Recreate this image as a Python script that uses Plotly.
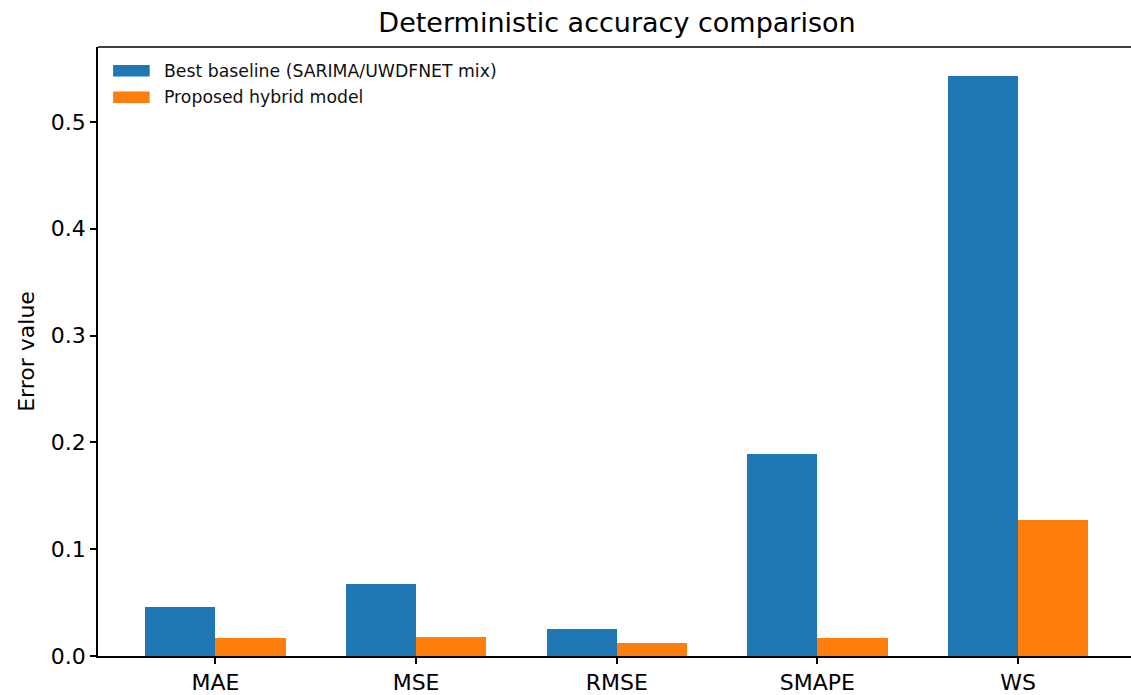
import plotly.graph_objects as go

categories = ["MAE", "MSE", "RMSE", "SMAPE", "WS"]
baseline = [0.0458, 0.0675, 0.0252, 0.189, 0.543]
proposed = [0.0165, 0.0174, 0.0118, 0.0171, 0.1272]
series_names = ["Best baseline (SARIMA/UWDFNET mix)", "Proposed hybrid model"]
colors = ["#1f77b4", "#ff7f0e"]

# paper is slightly wider than the 1131px window so the right edge of the
# axes (which the reference crops off) falls outside the visible page
W, H = 1145, 695
L, R, T, B = 97.6, 0, 47, 37
pw, ph = W - L - R, H - T - B

x = list(range(len(categories)))
bw = 0.35
fig = go.Figure()
fig.add_trace(go.Bar(x=[i - bw / 2 for i in x], y=baseline, width=bw, name=series_names[0],
                     marker=dict(color=colors[0], line=dict(width=0)), showlegend=False))
fig.add_trace(go.Bar(x=[i + bw / 2 for i in x], y=proposed, width=bw, name=series_names[1],
                     marker=dict(color=colors[1], line=dict(width=0)), showlegend=False))

font = "DejaVu Sans"
ymax = max(baseline + proposed) * 1.05
xlo = -0.585
xhi = xlo + pw / 200.75

def px2x(p):
    return (p - L) / pw

def py2y(p):
    return (H - B - p) / ph

# legend drawn manually
rows = [(65, 76.7), (91.7, 103.3)]
for (y0, y1), name, c in zip(rows, series_names, colors):
    fig.add_shape(type="rect", xref="paper", yref="paper",
                  x0=px2x(112.7), x1=px2x(149.3), y0=py2y(y1), y1=py2y(y0),
                  fillcolor=c, line=dict(width=0))
    fig.add_annotation(xref="paper", yref="paper", x=px2x(162), y=py2y((y0 + y1) / 2),
                       text=name, showarrow=False, xanchor="left", yanchor="middle",
                       font=dict(family=font, size=17.3, color="#111"))

# top spine
fig.add_shape(type="line", xref="paper", yref="paper", x0=0, x1=1, y0=1, y1=1,
              line=dict(color="black", width=1.5))

fig.update_layout(
    width=W, height=H,
    margin=dict(l=L, r=R, t=T, b=B),
    plot_bgcolor="white", paper_bgcolor="white",
    bargap=0, barmode="overlay",
    title=dict(text="Deterministic accuracy comparison", x=617 / W, xref="container",
               xanchor="center", y=1 - 23 / H, yanchor="middle",
               font=dict(family=font, size=27, color="black")),
    font=dict(family=font, color="black"),
    xaxis=dict(range=[xlo, xhi], tickmode="array", tickvals=x, ticktext=categories,
               showline=True, linecolor="black", linewidth=1.5, ticks="outside",
               ticklen=6, tickwidth=1.5, tickcolor="black", showgrid=False, zeroline=False,
               tickfont=dict(family=font, size=22, color="black")),
    yaxis=dict(range=[0, ymax], tickmode="array", tickvals=[0, 0.1, 0.2, 0.3, 0.4, 0.5],
               ticktext=["0.0", "0.1", "0.2", "0.3", "0.4", "0.5"],
               showline=True, linecolor="black", linewidth=1.5, ticks="outside",
               ticklen=6, tickwidth=1.5, tickcolor="black", showgrid=False, zeroline=False,
               tickfont=dict(family=font, size=22, color="black"),
               title=dict(text="Error value", font=dict(family=font, size=22, color="black"),
                          standoff=10)),
)

fig.write_html(
    "out.html",
    config={"displayModeBar": False},
    post_script="document.body.style.margin='0';document.body.style.overflow='hidden';"
                "document.documentElement.style.overflow='hidden';",
)
